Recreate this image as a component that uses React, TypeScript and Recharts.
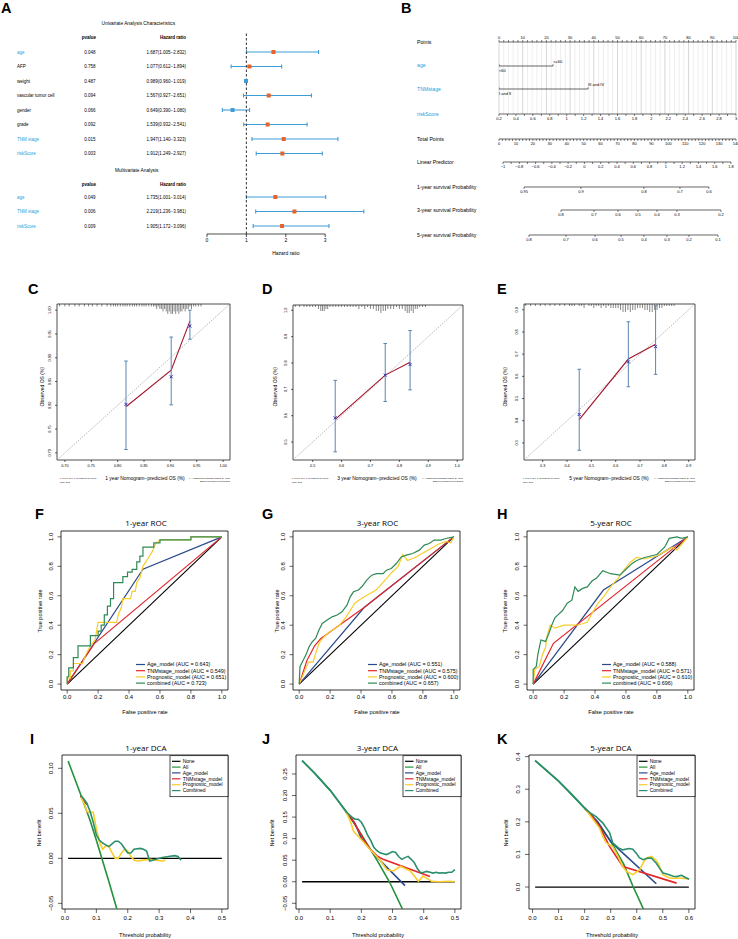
import React from 'react';
import { ComposedChart, Line, Scatter, ErrorBar, XAxis, YAxis, ReferenceLine, ReferenceArea } from 'recharts';

const FONT = "'Liberation Sans', Arial, Helvetica, sans-serif";
const TFONT = "'Open Sans', 'Noto Sans', 'Liberation Sans', sans-serif";
const TXT_BLUE = '#1CA2DE';
const C_AGE = '#2B4A8B';
const C_TNM = '#E3262B';
const C_PROG = '#F8CD2C';
const C_COMB = '#2F8A55';
const C_ALL = '#23923A';
const C_DCOMB = '#2B8F6B';

type Pt = [number, number];
const toXY = (a: Pt[]) => a.map(([x, y]) => ({ x, y }));
function seq(a: number, b: number, step: number) {
  const out: number[] = [];
  const n = Math.round((b - a) / step);
  for (let i = 0; i <= n; i++) out.push(+(a + i * step).toFixed(6));
  return out;
}

// ---------------- Panel A : forest plot ----------------
const uniVars = ['age', 'AFP', 'weight', 'vascular tumor cell', 'gender', 'grade', 'TNM stage', 'riskScore'];
const uniBlue = [true, false, false, false, false, false, true, true];
const uniP = ['0.048', '0.758', '0.487', '0.094', '0.066', '0.092', '0.015', '0.003'];
const uniHR = [1.687, 1.077, 0.989, 1.567, 0.649, 1.539, 1.947, 1.912];
const uniLo = [1.005, 0.612, 0.96, 0.927, 0.39, 0.932, 1.14, 1.249];
const uniHi = [2.832, 1.894, 1.019, 2.651, 1.08, 2.541, 3.323, 2.927];
const multiVars = ['age', 'TNM stage', 'riskScore'];
const multiP = ['0.049', '0.006', '0.009'];
const multiHR = [1.735, 2.219, 1.905];
const multiLo = [1.001, 1.236, 1.172];
const multiHi = [3.014, 3.981, 3.096];
const hrTicks = [0, 1, 2, 3];
const fmtHR = (h: number, l: number, u: number) => `${h.toFixed(3)}(${l.toFixed(3)}\u2212${u.toFixed(3)})`;

// ---------------- Panel B : nomogram ----------------
const nomoRows = ['Points', 'age', 'TNMstage', 'riskScore', 'Total Points', 'Linear Predictor', '1-year survival Probability', '3-year survival Probability', '5-year survival Probability'];
const nomoBlue = [false, true, true, true, false, false, false, false, false];
const agePts = [0, 22.8];
const ageLabels = ['<60', '>=60'];
const tnmPts = [0, 37.6];
const tnmLabels = ['I and II', 'III and IV'];
const surv1Labels = ['0.95', '0.9', '0.8', '0.7', '0.6'];
const surv1Pts = [14.8, 48.4, 85.6, 106.9, 124.0];
const surv3Labels = ['0.8', '0.7', '0.6', '0.5', '0.4', '0.3', '0.2'];
const surv3Pts = [36.6, 56.1, 70.3, 82.1, 93.3, 105.1, 131.1];
const surv5Labels = ['0.8', '0.7', '0.6', '0.5', '0.4', '0.3', '0.2', '0.1'];
const surv5Pts = [17.7, 39.6, 56.7, 72.1, 85.6, 99.2, 112.2, 129.4];

// ---------------- Panels C-E : calibration ----------------
const calC = {
  pts: [[0.8158, 0.802], [0.9015, 0.86], [0.937, 0.9665]] as Pt[],
  red: [[0.8158, 0.797], [0.9015, 0.874], [0.937, 0.977]] as Pt[],
  lo: [0.707, 0.801, 0.939], hi: [0.893, 0.9435, 1.0],
};
const calD = {
  pts: [[0.578, 0.592], [0.751, 0.754], [0.837, 0.794]] as Pt[],
  red: [[0.578, 0.586], [0.751, 0.754], [0.837, 0.803]] as Pt[],
  lo: [0.463, 0.654, 0.698], hi: [0.734, 0.874, 0.923],
};
const calE = {
  pts: [[0.45, 0.428], [0.652, 0.665], [0.764, 0.734]] as Pt[],
  red: [[0.45, 0.405], [0.652, 0.678], [0.764, 0.745]] as Pt[],
  lo: [0.267, 0.553, 0.609], hi: [0.632, 0.846, 0.918],
};
const rugCx = [0.69, 0.7, 0.708, 0.719, 0.727, 0.737, 0.745, 0.752, 0.761, 0.77, 0.78, 0.787, 0.792, 0.796, 0.8, 0.805, 0.81, 0.814, 0.818, 0.823, 0.828, 0.832, 0.836, 0.841, 0.846, 0.85, 0.854, 0.859, 0.864, 0.868, 0.871, 0.874, 0.877, 0.88, 0.883, 0.886, 0.889, 0.892, 0.895, 0.898, 0.901, 0.904, 0.907, 0.91, 0.913, 0.916, 0.919, 0.922, 0.925, 0.928, 0.931, 0.934, 0.937, 0.94, 0.944, 0.948, 0.953, 0.958];
const rugCh = [1, 1, 1, 1, 1, 1, 1, 1, 1, 1, 1, 1, 1, 1, 1, 1, 1, 1, 1, 1, 1, 1, 1, 1, 1, 1, 1, 1, 1, 1, 1, 2, 1, 2, 2, 3, 2, 3, 4, 3, 4, 4, 3, 4, 3, 4, 3, 3, 2, 3, 2, 2, 1, 2, 1, 1, 1, 1];
const rugDx = [0.44, 0.455, 0.47, 0.48, 0.49, 0.5, 0.51, 0.52, 0.528, 0.534, 0.54, 0.546, 0.552, 0.56, 0.57, 0.58, 0.59, 0.6, 0.61, 0.62, 0.63, 0.64, 0.65, 0.66, 0.67, 0.68, 0.69, 0.7, 0.71, 0.72, 0.728, 0.736, 0.744, 0.752, 0.76, 0.77, 0.78, 0.79, 0.8, 0.81, 0.82, 0.827, 0.834, 0.841, 0.848, 0.855, 0.862, 0.87, 0.88, 0.89];
const rugDh = [1, 1, 1, 1, 1, 1, 1, 2, 3, 3, 3, 2, 2, 1, 1, 1, 1, 1, 1, 1, 1, 1, 1, 2, 1, 2, 1, 2, 2, 3, 3, 4, 3, 3, 2, 2, 2, 1, 2, 2, 3, 4, 4, 3, 4, 2, 2, 1, 1, 1];
const rugEx = [0.23, 0.25, 0.27, 0.29, 0.31, 0.33, 0.35, 0.37, 0.39, 0.41, 0.42, 0.43, 0.45, 0.46, 0.47, 0.49, 0.5, 0.51, 0.52, 0.53, 0.54, 0.55, 0.56, 0.57, 0.58, 0.59, 0.6, 0.61, 0.62, 0.63, 0.64, 0.65, 0.66, 0.67, 0.68, 0.69, 0.7, 0.71, 0.72, 0.73, 0.74, 0.75, 0.76, 0.77, 0.78, 0.79, 0.8, 0.81, 0.82, 0.83, 0.84];
const rugEh = [1, 1, 1, 1, 1, 1, 1, 1, 1, 1, 1, 1, 1, 1, 2, 1, 1, 2, 1, 1, 2, 1, 2, 1, 2, 2, 2, 2, 3, 4, 4, 3, 4, 3, 3, 2, 2, 2, 3, 3, 4, 4, 3, 3, 2, 2, 1, 1, 1, 1, 1];

// ---------------- Panels F-H : ROC ----------------
const rocNames = ['Age_model', 'TNMstage_model', 'Prognostic_model', 'combined'];
const rocAucF = ['0.643', '0.549', '0.651', '0.723'];
const rocAucG = ['0.551', '0.575', '0.600', '0.657'];
const rocAucH = ['0.588', '0.571', '0.610', '0.696'];
const diagROC: Pt[] = [[0, 0], [1, 1]];
const fAge: Pt[] = [[0, 0], [0.49, 0.78], [1, 1]];
const fTnm: Pt[] = [[0, 0], [0.175, 0.275], [1, 1]];
const fProg: Pt[] = [[0, 0], [0, 0.04], [0.02, 0.04], [0.02, 0.09], [0.04, 0.09], [0.04, 0.14], [0.1, 0.14], [0.12, 0.2], [0.15, 0.26], [0.18, 0.3], [0.19, 0.36], [0.2, 0.42], [0.32, 0.42], [0.33, 0.47], [0.35, 0.52], [0.36, 0.58], [0.41, 0.58], [0.42, 0.63], [0.44, 0.63], [0.45, 0.69], [0.47, 0.72], [0.49, 0.8], [0.52, 0.85], [0.55, 0.9], [0.57, 0.95], [0.6, 0.98], [0.8, 0.98], [0.8, 1], [1, 1]];
const fComb: Pt[] = [[0, 0], [0, 0.05], [0.01, 0.05], [0.01, 0.11], [0.04, 0.11], [0.04, 0.18], [0.07, 0.18], [0.07, 0.26], [0.15, 0.26], [0.15, 0.33], [0.2, 0.33], [0.2, 0.36], [0.22, 0.36], [0.22, 0.4], [0.24, 0.4], [0.24, 0.47], [0.26, 0.47], [0.26, 0.53], [0.28, 0.53], [0.28, 0.58], [0.3, 0.58], [0.3, 0.69], [0.36, 0.69], [0.36, 0.73], [0.39, 0.73], [0.39, 0.76], [0.42, 0.76], [0.42, 0.78], [0.45, 0.78], [0.45, 0.83], [0.47, 0.83], [0.47, 0.87], [0.49, 0.87], [0.49, 0.93], [0.56, 0.93], [0.56, 0.96], [0.6, 0.96], [0.6, 0.98], [0.8, 0.98], [0.8, 1], [1, 1]];
const gAge: Pt[] = [[0, 0], [0.42, 0.52], [1, 1]];
const gTnm: Pt[] = [[0, 0], [0.05, 0.16], [0.1, 0.26], [0.14, 0.31], [0.42, 0.52], [1, 1]];
const gProg: Pt[] = [[0, 0], [0.02, 0.05], [0.04, 0.1], [0.06, 0.15], [0.09, 0.15], [0.11, 0.22], [0.13, 0.28], [0.16, 0.32], [0.19, 0.35], [0.22, 0.37], [0.26, 0.4], [0.3, 0.45], [0.33, 0.5], [0.36, 0.55], [0.4, 0.58], [0.45, 0.61], [0.5, 0.64], [0.55, 0.7], [0.6, 0.76], [0.64, 0.8], [0.67, 0.88], [0.7, 0.84], [0.75, 0.86], [0.8, 0.89], [0.85, 0.92], [0.9, 0.95], [0.95, 0.97], [0.98, 0.96], [1, 1]];
const gComb: Pt[] = [[0, 0], [0.005, 0.118], [0.021, 0.152], [0.043, 0.197], [0.064, 0.254], [0.085, 0.288], [0.106, 0.31], [0.128, 0.367], [0.149, 0.412], [0.181, 0.435], [0.213, 0.457], [0.245, 0.469], [0.277, 0.491], [0.309, 0.536], [0.33, 0.593], [0.351, 0.627], [0.383, 0.639], [0.405, 0.661], [0.437, 0.706], [0.469, 0.74], [0.5, 0.75], [0.543, 0.75], [0.564, 0.774], [0.596, 0.785], [0.628, 0.819], [0.66, 0.864], [0.692, 0.876], [0.734, 0.887], [0.777, 0.91], [0.809, 0.944], [0.841, 0.955], [0.873, 0.978], [0.916, 0.978], [0.948, 0.989], [1, 1]];
const hAge: Pt[] = [[0, 0], [0.454, 0.639], [1, 1]];
const hTnm: Pt[] = [[0, 0], [0.131, 0.277], [1, 1]];
const hProg: Pt[] = [[0, 0], [0.01, 0.1], [0.04, 0.12], [0.06, 0.2], [0.08, 0.25], [0.09, 0.33], [0.11, 0.4], [0.14, 0.38], [0.17, 0.39], [0.2, 0.4], [0.24, 0.4], [0.28, 0.4], [0.32, 0.41], [0.35, 0.42], [0.38, 0.48], [0.42, 0.55], [0.46, 0.6], [0.5, 0.66], [0.55, 0.72], [0.59, 0.78], [0.63, 0.83], [0.67, 0.86], [0.72, 0.85], [0.8, 0.87], [0.85, 0.9], [0.9, 0.93], [0.93, 0.91], [0.96, 0.95], [1, 1]];
const hComb: Pt[] = [[0, 0], [0, 0.1], [0.02, 0.12], [0.03, 0.2], [0.05, 0.3], [0.08, 0.29], [0.1, 0.34], [0.12, 0.4], [0.14, 0.45], [0.16, 0.47], [0.19, 0.5], [0.22, 0.55], [0.25, 0.57], [0.27, 0.66], [0.29, 0.63], [0.32, 0.65], [0.35, 0.66], [0.38, 0.7], [0.41, 0.72], [0.45, 0.77], [0.5, 0.75], [0.56, 0.74], [0.6, 0.78], [0.64, 0.82], [0.67, 0.84], [0.72, 0.86], [0.8, 0.88], [0.85, 0.93], [0.88, 0.99], [0.93, 1.0], [0.96, 0.99], [1, 1]];

// ---------------- Panels I-K : DCA ----------------
const dcaNames = ['None', 'All', 'Age_model', 'TNMstage_model', 'Prognostic_model', 'Combined'];
const dcaColors = ['#000000', C_ALL, C_AGE, C_TNM, C_PROG, C_DCOMB];
const iNone: Pt[] = [[0.01, 0], [0.5, 0]];
const iAll: Pt[] = [[0.01, 0.108], [0.05, 0.071], [0.08, 0.042], [0.1, 0.02], [0.12, -0.003], [0.14, -0.026], [0.17, -0.062]];
const iAge: Pt[] = [[0.05, 0.069], [0.06, 0.064], [0.07, 0.06]];
const iTnm: Pt[] = [[0.05, 0.069], [0.06, 0.064], [0.07, 0.06]];
const iProg: Pt[] = [[0.05, 0.068], [0.06, 0.062], [0.07, 0.052], [0.08, 0.051], [0.09, 0.051], [0.1, 0.033], [0.11, 0.018], [0.12, 0.01], [0.13, 0.014], [0.14, 0.013], [0.15, 0.006], [0.16, 0.0], [0.17, 0.0], [0.18, 0.006], [0.19, 0.01], [0.2, 0.008], [0.21, 0.002], [0.22, -0.002], [0.23, -0.003], [0.25, -0.002], [0.27, -0.001], [0.29, -0.002], [0.31, -0.003], [0.32, -0.002]];
const iComb: Pt[] = [[0.05, 0.07], [0.06, 0.066], [0.07, 0.061], [0.08, 0.052], [0.09, 0.04], [0.1, 0.026], [0.11, 0.02], [0.12, 0.017], [0.13, 0.015], [0.14, 0.013], [0.15, 0.016], [0.16, 0.019], [0.17, 0.019], [0.18, 0.016], [0.19, 0.011], [0.2, 0.006], [0.21, 0.006], [0.22, 0.01], [0.24, 0.011], [0.25, 0.01], [0.26, 0.008], [0.27, -0.003], [0.29, -0.001], [0.31, 0.001], [0.33, 0.002], [0.35, 0.003], [0.36, 0.002], [0.37, -0.002]];
const jNone: Pt[] = [[0.01, 0], [0.5, 0]];
const jAll: Pt[] = [[0.01, 0.281], [0.05, 0.252], [0.1, 0.212], [0.15, 0.165], [0.2, 0.11], [0.25, 0.05], [0.29, 0.0], [0.335, -0.068]];
const jAge: Pt[] = [[0.15, 0.163], [0.18, 0.135], [0.2, 0.1], [0.247, 0.059], [0.34, -0.009]];
const jTnm: Pt[] = [[0.15, 0.163], [0.17, 0.146], [0.19, 0.12], [0.21, 0.095], [0.23, 0.074], [0.25, 0.06], [0.27, 0.052], [0.42, 0.012]];
const jProg: Pt[] = [[0.15, 0.163], [0.165, 0.14], [0.175, 0.117], [0.2, 0.098], [0.228, 0.075], [0.26, 0.05], [0.282, 0.028], [0.303, 0.025], [0.325, 0.036], [0.357, 0.025], [0.383, 0.001], [0.398, 0.013], [0.425, 0.001], [0.452, 0.0], [0.479, 0.001], [0.5, 0.0]];
const jComb: Pt[] = [[0.01, 0.281], [0.05, 0.252], [0.1, 0.212], [0.15, 0.163], [0.17, 0.15], [0.18, 0.145], [0.19, 0.145], [0.2, 0.138], [0.21, 0.125], [0.22, 0.108], [0.23, 0.096], [0.24, 0.08], [0.25, 0.072], [0.26, 0.067], [0.27, 0.065], [0.28, 0.063], [0.29, 0.066], [0.3, 0.07], [0.31, 0.068], [0.32, 0.058], [0.33, 0.052], [0.34, 0.056], [0.35, 0.059], [0.36, 0.052], [0.37, 0.044], [0.38, 0.03], [0.39, 0.021], [0.4, 0.022], [0.41, 0.024], [0.42, 0.022], [0.43, 0.02], [0.44, 0.022], [0.45, 0.02], [0.46, 0.021], [0.47, 0.02], [0.48, 0.022], [0.49, 0.022], [0.5, 0.028]];
const kNone: Pt[] = [[0.01, 0], [0.6, 0]];
const kAll: Pt[] = [[0.01, 0.388], [0.05, 0.36], [0.1, 0.325], [0.15, 0.285], [0.2, 0.242], [0.25, 0.195], [0.3, 0.14], [0.35, 0.07], [0.385, 0.003], [0.43, -0.075]];
const kAge: Pt[] = [[0.2, 0.242], [0.25, 0.2], [0.3, 0.14], [0.32, 0.124], [0.475, 0.01]];
const kTnm: Pt[] = [[0.2, 0.242], [0.23, 0.215], [0.257, 0.186], [0.296, 0.124], [0.347, 0.063], [0.553, 0.012]];
const kProg: Pt[] = [[0.2, 0.242], [0.23, 0.21], [0.257, 0.181], [0.27, 0.155], [0.283, 0.135], [0.308, 0.124], [0.328, 0.094], [0.345, 0.065], [0.36, 0.048], [0.385, 0.038], [0.411, 0.053], [0.425, 0.075], [0.437, 0.089], [0.456, 0.094], [0.47, 0.085], [0.482, 0.073], [0.501, 0.037], [0.52, 0.03], [0.533, 0.027], [0.572, 0.027], [0.601, 0.025]];
const kComb: Pt[] = [[0.01, 0.388], [0.1, 0.325], [0.2, 0.242], [0.22, 0.228], [0.244, 0.216], [0.27, 0.196], [0.296, 0.166], [0.308, 0.135], [0.33, 0.12], [0.347, 0.114], [0.37, 0.118], [0.385, 0.116], [0.398, 0.104], [0.41, 0.09], [0.424, 0.084], [0.44, 0.088], [0.456, 0.089], [0.475, 0.073], [0.49, 0.055], [0.501, 0.043], [0.515, 0.04], [0.527, 0.037], [0.54, 0.033], [0.553, 0.032], [0.572, 0.036], [0.585, 0.03], [0.601, 0.024]];

// ================= components =================
function RotTick(props: any) {
  const { x, y, payload, fmt, fs } = props;
  return (
    <text x={x} y={y} transform={`rotate(-90 ${x} ${y})`} textAnchor="middle" fontSize={fs} fontFamily={FONT} fill="#000">
      {fmt(payload.value)}
    </text>
  );
}

function Frame(props: any) {
  const { box, xDomain, yDomain, xTicks, yTicks, xFmt, yFmt, fs, tickLen, xGap, yGap, frameW = 0.8, children } = props;
  const yw = 24, xh = 22, mt = 8, mr = 8;
  return (
    <div style={{ position: 'absolute', left: box.x - yw, top: box.y - mt }}>
      <ComposedChart width={box.w + yw + mr} height={box.h + mt + xh} margin={{ top: mt, right: mr, bottom: 0, left: 0 }}>
        <XAxis type="number" dataKey="x" domain={xDomain} ticks={xTicks} interval={0} allowDataOverflow height={xh}
          axisLine={false} tickLine={{ stroke: '#000', strokeWidth: 0.6 }} tickSize={tickLen} tickMargin={xGap}
          tick={{ fontSize: fs, fill: '#000', fontFamily: FONT }} tickFormatter={xFmt} />
        <YAxis type="number" dataKey="y" domain={yDomain} ticks={yTicks} interval={0} allowDataOverflow width={yw}
          axisLine={false} tickLine={{ stroke: '#000', strokeWidth: 0.6 }} tickSize={tickLen} tickMargin={yGap}
          tick={<RotTick fmt={yFmt} fs={fs} />} />
        <ReferenceArea x1={xDomain[0]} x2={xDomain[1]} y1={yDomain[0]} y2={yDomain[1]} fill="none" stroke="#000" strokeWidth={frameW} ifOverflow="visible" />
        {children}
      </ComposedChart>
    </div>
  );
}

const XMark = (p: any) => {
  const { cx, cy } = p;
  const s = 1.5;
  return <path d={`M${cx - s},${cy - s}L${cx + s},${cy + s}M${cx - s},${cy + s}L${cx + s},${cy - s}`} stroke="#3535B5" strokeWidth={1} fill="none" />;
};
const NoShape = () => <g />;

function CalPanel(props: any) {
  const { box, dom, ticks, fmt, cal, rugX, rugH, rugUnit } = props;
  const scat = cal.pts.map(([x, y]: Pt, i: number) => ({ x, y, err: [y - cal.lo[i], cal.hi[i] - y] }));
  const rug = rugX.map((x: number, i: number) => ({ x, y: dom[1], err: [rugH[i] * rugUnit, 0] }));
  return (
    <Frame box={box} xDomain={dom} yDomain={dom} xTicks={ticks} yTicks={ticks} xFmt={fmt} yFmt={fmt} fs={3.8} tickLen={2} xGap={2} yGap={3.5} frameW={0.7}>
      <Line data={toXY([[dom[0], dom[0]], [dom[1], dom[1]]])} dataKey="y" stroke="#8a8a8a" strokeWidth={0.6} strokeDasharray="1.6 1.2" dot={false} isAnimationActive={false} />
      <Scatter data={rug} shape={NoShape} isAnimationActive={false}>
        <ErrorBar dataKey="err" direction="y" width={0} stroke="#111" strokeWidth={0.5} />
      </Scatter>
      <Line data={toXY(cal.red)} dataKey="y" stroke="#A3152E" strokeWidth={1.1} dot={false} isAnimationActive={false} />
      <Scatter data={scat} shape={XMark} isAnimationActive={false}>
        <ErrorBar dataKey="err" direction="y" width={1.8} stroke="#5B86B0" strokeWidth={1} />
      </Scatter>
    </Frame>
  );
}

const rocTicks = [0, 0.2, 0.4, 0.6, 0.8, 1];
const f1 = (v: number) => v.toFixed(1);
function RocPanel(props: any) {
  const { box, age, tnm, prog, comb } = props;
  const dom = [-0.04, 1.04];
  const series = [
    { d: age, c: C_AGE }, { d: tnm, c: C_TNM }, { d: prog, c: C_PROG }, { d: comb, c: C_COMB },
  ];
  return (
    <Frame box={box} xDomain={dom} yDomain={dom} xTicks={rocTicks} yTicks={rocTicks} xFmt={f1} yFmt={f1} fs={6} tickLen={3.5} xGap={1.5} yGap={4}>
      <Line data={toXY(diagROC)} dataKey="y" stroke="#000" strokeWidth={1.1} dot={false} isAnimationActive={false} />
      {series.map((s, i) => (
        <Line key={i} data={toXY(s.d)} dataKey="y" stroke={s.c} strokeWidth={1.2} dot={false} isAnimationActive={false} />
      ))}
    </Frame>
  );
}

function DcaPanel(props: any) {
  const { box, xDom, yDom, xTicks, yTicks, yFmt, lines } = props;
  return (
    <Frame box={box} xDomain={xDom} yDomain={yDom} xTicks={xTicks} yTicks={yTicks} xFmt={f1} yFmt={yFmt} fs={6} tickLen={4} xGap={2.5} yGap={4.5}>
      {lines.map((d: Pt[], i: number) => (
        <Line key={i} data={toXY(d)} dataKey="y" stroke={dcaColors[i]} strokeWidth={i === 0 ? 1.3 : 1.6} dot={false} isAnimationActive={false} />
      ))}
    </Frame>
  );
}

function Forest() {
  const KTOP = -1.38, KBOT = 12.55;
  const rows = [
    ...uniHR.map((h, i) => ({ x: h, y: i, err: [h - uniLo[i], uniHi[i] - h] })),
    ...multiHR.map((h, i) => ({ x: h, y: 10 + i, err: [h - multiLo[i], multiHi[i] - h] })),
  ];
  const ml = 8, mr = 8, pw = 157.6, ph = 202;
  return (
    <div style={{ position: 'absolute', left: 207 - ml, top: 32 }}>
      <ComposedChart width={pw + ml + mr} height={ph + 24} margin={{ top: 0, right: mr, bottom: 0, left: ml }}>
        <XAxis type="number" dataKey="x" domain={[0, 4]} ticks={hrTicks} interval={0} height={24} axisLine={false}
          tickLine={{ stroke: '#000', strokeWidth: 0.7 }} tickSize={3} tickMargin={1}
          tick={{ fontSize: 5, fill: '#000', fontFamily: FONT }} allowDataOverflow />
        <YAxis hide type="number" dataKey="y" domain={[KTOP, KBOT]} reversed allowDataOverflow />
        <ReferenceLine segment={[{ x: 0, y: KBOT }, { x: 3, y: KBOT }]} stroke="#000" strokeWidth={0.7} ifOverflow="visible" />
        <Scatter data={rows} isAnimationActive={false}
          shape={(p: any) => <rect x={p.cx - 2} y={p.cy - 2} width={4} height={4} fill={p.payload.x < 1 ? '#3E9DD6' : '#E8622C'} />}>
          <ErrorBar dataKey="err" direction="x" width={2} stroke="#3E9DD6" strokeWidth={1.1} />
        </Scatter>
        <ReferenceLine x={1} stroke="#444" strokeWidth={1.1} strokeDasharray="2.5 2" ifOverflow="visible" />
      </ComposedChart>
    </div>
  );
}

function NomoAxis(props: any) {
  const { x0, x1, y, domain, ticks, fmt, top = false, lineFrom, lineTo, fs = 4 } = props;
  const pad = 14, axH = 10, plotH = 4, mt = 2;
  const W = x1 - x0 + 2 * pad;
  const H = mt + axH + plotH;
  const off = top ? mt + axH : mt + plotH;
  const yl = top ? 1 : 0;
  return (
    <div style={{ position: 'absolute', left: x0 - pad, top: y - off }}>
      <ComposedChart width={W} height={H} data={[{ x: domain[0], y: 0 }, { x: domain[1], y: 1 }]} margin={{ top: mt, right: pad, bottom: 0, left: pad }}>
        <XAxis type="number" dataKey="x" domain={domain} ticks={ticks} interval={0} orientation={top ? 'top' : 'bottom'} height={axH}
          axisLine={false} tickLine={{ stroke: '#000', strokeWidth: 0.5 }} tickSize={2} tickMargin={1}
          tick={{ fontSize: fs, fill: '#000', fontFamily: FONT }} tickFormatter={fmt} allowDataOverflow />
        <YAxis hide type="number" dataKey="y" domain={[0, 1]} />
        <Line dataKey="y" stroke="none" dot={false} isAnimationActive={false} />
        <ReferenceLine segment={[{ x: lineFrom ?? domain[0], y: yl }, { x: lineTo ?? domain[1], y: yl }]} stroke="#000" strokeWidth={0.6} ifOverflow="visible" />
      </ComposedChart>
    </div>
  );
}

function NomoGrid() {
  const pad = 2;
  const vals = seq(0, 100, 2);
  return (
    <div style={{ position: 'absolute', left: 499 - pad, top: 42 }}>
      <ComposedChart width={237 + 2 * pad} height={72} data={[{ x: 0, y: 0 }, { x: 100, y: 1 }]} margin={{ top: 0, right: pad, bottom: 0, left: pad }}>
        <XAxis hide type="number" dataKey="x" domain={[0, 100]} allowDataOverflow />
        <YAxis hide type="number" dataKey="y" domain={[0, 1]} />
        <Line dataKey="y" stroke="none" dot={false} isAnimationActive={false} />
        {vals.map((v) => (
          <ReferenceLine key={v} x={v} stroke={v % 10 === 0 ? '#b8b8b8' : '#e2e2e2'} strokeWidth={0.6} />
        ))}
      </ComposedChart>
    </div>
  );
}

function CatRow(props: any) {
  const { y, pts, labels } = props;
  const x0 = 499, x1 = 736, pad = 14, H = 20;
  const data = pts.map((p: number, i: number) => ({ x: p, y: 0.5, lab: labels[i] }));
  const dot = (p: any) => {
    const { cx, cy, index, payload } = p;
    const below = index % 2 === 0;
    return (
      <g key={`d${index}`}>
        <line x1={cx} x2={cx} y1={cy} y2={cy - 1.8} stroke="#000" strokeWidth={0.5} />
        <text x={cx} y={below ? cy + 5.5 : cy - 2.6} fontSize={4} fontFamily={FONT} fill="#000">{payload.lab}</text>
      </g>
    );
  };
  return (
    <div style={{ position: 'absolute', left: x0 - pad, top: y - H / 2 }}>
      <ComposedChart width={x1 - x0 + 2 * pad} height={H} margin={{ top: 0, right: pad, bottom: 0, left: pad }}>
        <XAxis hide type="number" dataKey="x" domain={[0, 100]} allowDataOverflow />
        <YAxis hide type="number" dataKey="y" domain={[0, 1]} />
        <Line data={data} dataKey="y" stroke="#000" strokeWidth={0.6} dot={dot} isAnimationActive={false} />
      </ComposedChart>
    </div>
  );
}

const T = (p: any) => {
  const { x, y, s, fs, anchor = 'start', w, fill = '#000', font = FONT, rot } = p;
  return (
    <text x={x} y={y} fontSize={fs} textAnchor={anchor} fontWeight={w} fill={fill} fontFamily={font}
      transform={rot ? `rotate(-90 ${x} ${y})` : undefined}>{s}</text>
  );
};

function Overlay() {
  const letters: [string, number, number][] = [
    ['A', 1, 12.5], ['B', 401, 13.3], ['C', 28, 294], ['D', 262, 294], ['E', 497, 294],
    ['F', 35, 518.5], ['G', 262, 518.5], ['H', 497, 518.5], ['I', 30, 744], ['J', 262, 744], ['K', 497, 744],
  ];
  const rowY = (k: number) => 52 + 14.5 * k;
  const nomoY = [42, 65.5, 89.3, 114, 139, 162, 187, 210, 235];
  const rocBoxes = [{ r: 228, aucs: rocAucF }, { r: 460, aucs: rocAucG }, { r: 694, aucs: rocAucH }];
  const rocColors = [C_AGE, C_TNM, C_PROG, C_COMB];
  const rocLegY = [664.5, 670.7, 676.9, 683.1];
  const dcaR = [228, 461, 695];
  const dcaLegY = [761.3, 767.1, 772.9, 778.8, 784.7, 790.6];
  const calSub = [
    { l: 60, r: 230 },
    { l: 292, r: 463 },
    { l: 523, r: 695 },
  ];
  return (
    <svg width={738} height={939} style={{ position: 'absolute', left: 0, top: 0, pointerEvents: 'none' }}>
      {letters.map(([s, x, y]) => <T key={s} x={x} y={y} s={s} fs={14.5} w={700} />)}

      {/* Panel A text */}
      <T x={138.3} y={24.5} s="Univariate Analysis Characteristics" fs={4.8} anchor="middle" />
      <T x={89} y={39.3} s="pvalue" fs={4.5} anchor="middle" w={700} />
      <T x={186} y={39.3} s="Hazard ratio" fs={4.5} anchor="end" w={700} />
      {uniVars.map((v, i) => (
        <g key={'u' + i}>
          <T x={17} y={rowY(i) + 1.6} s={v} fs={4.5} fill={uniBlue[i] ? TXT_BLUE : '#000'} />
          <T x={90} y={rowY(i) + 1.6} s={uniP[i]} fs={4.5} anchor="middle" />
          <T x={186} y={rowY(i) + 1.6} s={fmtHR(uniHR[i], uniLo[i], uniHi[i])} fs={4.5} anchor="end" />
        </g>
      ))}
      <T x={136.7} y={171.7} s="Multivariate Analysis" fs={4.8} anchor="middle" />
      <T x={89} y={185.6} s="pvalue" fs={4.5} anchor="middle" w={700} />
      <T x={186} y={185.6} s="Hazard ratio" fs={4.5} anchor="end" w={700} />
      {multiVars.map((v, i) => (
        <g key={'m' + i}>
          <T x={17} y={rowY(10 + i) + 1.6} s={v} fs={4.5} fill={TXT_BLUE} />
          <T x={90} y={rowY(10 + i) + 1.6} s={multiP[i]} fs={4.5} anchor="middle" />
          <T x={186} y={rowY(10 + i) + 1.6} s={fmtHR(multiHR[i], multiLo[i], multiHi[i])} fs={4.5} anchor="end" />
        </g>
      ))}
      <T x={285.8} y={255} s="Hazard ratio" fs={5} anchor="middle" />

      {/* Panel B labels */}
      {nomoRows.map((s, i) => (
        <T key={'n' + i} x={417} y={nomoY[i] + 1.8} s={s} fs={5.2} fill={nomoBlue[i] ? TXT_BLUE : '#000'} />
      ))}

      {/* Calibration texts */}
      {[{ cx: 42, bx: 145, s: '1 year' }, { cx: 275.7, bx: 377, s: '3 year' }, { cx: 505, bx: 609, s: '5 year' }].map((c, i) => (
        <g key={'c' + i}>
          <T x={c.cx + 1.8} y={386.7} s="Observed OS (%)" fs={5} anchor="middle" rot />
          <T x={c.bx} y={479.5} s={`${c.s} Nomogram\u2212predicted OS (%)`} fs={4.9} anchor="middle" />
          <T x={calSub[i].l} y={479.3} s="n=243 d=62 p=1, 80 subjects per group" fs={2.1} />
          <T x={calSub[i].l} y={482.5} s="Gray: ideal" fs={2.1} />
          <T x={calSub[i].r} y={479} s="X - resampling optimism added, B=1000" fs={2.3} anchor="end" />
          <T x={calSub[i].r} y={482.3} s="Based on observed-predicted" fs={2.3} anchor="end" />
        </g>
      ))}

      {/* ROC texts */}
      {[{ t: '1-year ROC', cx: 146, yx: 40, bx: 145 }, { t: '3-year ROC', cx: 377.5, yx: 276.7, bx: 377 }, { t: '5-year ROC', cx: 611, yx: 505, bx: 611 }].map((c, i) => (
        <g key={'r' + i}>
          <T x={c.cx} y={526} s={c.t} fs={8} anchor="middle" font={TFONT} />
          <T x={c.yx + 2} y={611} s="True positive rate" fs={5.6} anchor="middle" rot />
          <T x={c.bx} y={713.5} s="False positive rate" fs={5.6} anchor="middle" />
          {rocNames.map((n, k) => (
            <g key={k}>
              <line x1={rocBoxes[i].r - 92} x2={rocBoxes[i].r - 83} y1={rocLegY[k]} y2={rocLegY[k]} stroke={rocColors[k]} strokeWidth={1.2} />
              <T x={rocBoxes[i].r - 81} y={rocLegY[k] + 1.9} s={`${n} (AUC = ${rocBoxes[i].aucs[k]})`} fs={5.4} />
            </g>
          ))}
        </g>
      ))}

      {/* DCA texts */}
      {[{ t: '1-year DCA', cx: 146, yx: 39, bx: 145 }, { t: '3-year DCA', cx: 377.5, yx: 271.7, bx: 378 }, { t: '5-year DCA', cx: 611, yx: 506, bx: 612 }].map((c, i) => (
        <g key={'k' + i}>
          <T x={c.cx} y={751} s={c.t} fs={8} anchor="middle" font={TFONT} />
          <T x={c.yx + 2} y={833} s="Net benefit" fs={5.6} anchor="middle" rot />
          <T x={c.bx} y={937} s="Threshold probability" fs={5.6} anchor="middle" />
          <rect x={dcaR[i] - 58} y={755.7} width={58} height={41} fill="#fff" stroke="#000" strokeWidth={0.7} />
          {dcaNames.map((n, k) => (
            <g key={k}>
              <line x1={dcaR[i] - 56} x2={dcaR[i] - 47.5} y1={dcaLegY[k]} y2={dcaLegY[k]} stroke={dcaColors[k]} strokeWidth={1.2} />
              <T x={dcaR[i] - 45.3} y={dcaLegY[k] + 1.7} s={n} fs={5} />
            </g>
          ))}
        </g>
      ))}
    </svg>
  );
}

export default function App() {
  const ptsTicks = seq(0, 100, 2);
  const totTicks = seq(0, 140, 2);
  const riskTicks = seq(0.2, 3, 0.1);
  const lpTicks = seq(-1, 1.8, 0.1);
  const tenFmt = (v: number) => (Math.round(v) % 10 === 0 ? String(Math.round(v)) : '');
  const evenTenth = (v: number) => Math.round(v * 10) % 2 === 0;
  const riskFmt = (v: number) => (evenTenth(v) ? String(+v.toFixed(1)) : '');
  const lpFmt = (v: number) => (evenTenth(v) ? String(+v.toFixed(1)).replace('-', '\u2212') : '');
  const lookup = (pts: number[], labs: string[]) => (v: number) => {
    const i = pts.findIndex((p) => Math.abs(p - v) < 1e-6);
    return i >= 0 ? labs[i] : '';
  };
  const f2 = (v: number) => v.toFixed(2);
  const dcaY2 = (v: number) => v.toFixed(2).replace('-', '\u2212');

  return (
    <div style={{ position: 'absolute', left: 0, top: 0, width: 738, height: 939, background: '#fff', overflow: 'hidden', fontFamily: FONT }}>
      <Forest />

      <NomoGrid />
      <NomoAxis x0={499} x1={736} y={42} domain={[0, 100]} ticks={ptsTicks} fmt={tenFmt} top />
      <CatRow y={65.5} pts={agePts} labels={ageLabels} />
      <CatRow y={89.3} pts={tnmPts} labels={tnmLabels} />
      <NomoAxis x0={499} x1={736} y={114} domain={[0.2, 3]} ticks={riskTicks} fmt={riskFmt} />
      <NomoAxis x0={499} x1={736} y={139} domain={[0, 140]} ticks={totTicks} fmt={tenFmt} />
      <NomoAxis x0={503} x1={731} y={162} domain={[-1, 1.8]} ticks={lpTicks} fmt={lpFmt} />
      <NomoAxis x0={499} x1={736} y={187} domain={[0, 140]} ticks={surv1Pts} fmt={lookup(surv1Pts, surv1Labels)} lineFrom={surv1Pts[0]} lineTo={surv1Pts[surv1Pts.length - 1]} />
      <NomoAxis x0={499} x1={736} y={210} domain={[0, 140]} ticks={surv3Pts} fmt={lookup(surv3Pts, surv3Labels)} lineFrom={surv3Pts[0]} lineTo={surv3Pts[surv3Pts.length - 1]} />
      <NomoAxis x0={499} x1={736} y={235} domain={[0, 140]} ticks={surv5Pts} fmt={lookup(surv5Pts, surv5Labels)} lineFrom={surv5Pts[0]} lineTo={surv5Pts[surv5Pts.length - 1]} />

      <CalPanel box={{ x: 57, y: 304, w: 173, h: 156 }} dom={[0.685, 1.013]} ticks={[0.7, 0.75, 0.8, 0.85, 0.9, 0.95, 1.0]} fmt={f2} cal={calC} rugX={rugCx} rugH={rugCh} rugUnit={0.0052} />
      <CalPanel box={{ x: 293, y: 305, w: 170, h: 155 }} dom={[0.432, 1.02]} ticks={[0.5, 0.6, 0.7, 0.8, 0.9, 1.0]} fmt={f1} cal={calD} rugX={rugDx} rugH={rugDh} rugUnit={0.0076} />
      <CalPanel box={{ x: 524, y: 304, w: 171, h: 156 }} dom={[0.223, 0.926]} ticks={[0.3, 0.4, 0.5, 0.6, 0.7, 0.8, 0.9]} fmt={f1} cal={calE} rugX={rugEx} rugH={rugEh} rugUnit={0.009} />

      <RocPanel box={{ x: 61, y: 531, w: 167, h: 159 }} age={fAge} tnm={fTnm} prog={fProg} comb={fComb} />
      <RocPanel box={{ x: 293, y: 531, w: 167, h: 159 }} age={gAge} tnm={gTnm} prog={gProg} comb={gComb} />
      <RocPanel box={{ x: 527, y: 531, w: 167, h: 159 }} age={hAge} tnm={hTnm} prog={hProg} comb={hComb} />

      <DcaPanel box={{ x: 62, y: 755, w: 166, h: 154 }} xDom={[-0.0096, 0.5196]} yDom={[-0.0563, 0.1148]} xTicks={[0, 0.1, 0.2, 0.3, 0.4, 0.5]} yTicks={[-0.05, 0, 0.05, 0.1]} yFmt={dcaY2}
        lines={[iNone, iAll, iAge, iTnm, iProg, iComb]} />
      <DcaPanel box={{ x: 296, y: 755, w: 165, h: 154 }} xDom={[-0.0096, 0.5196]} yDom={[-0.0632, 0.294]} xTicks={[0, 0.1, 0.2, 0.3, 0.4, 0.5]} yTicks={[-0.05, 0, 0.05, 0.1, 0.15, 0.2, 0.25]} yFmt={dcaY2}
        lines={[jNone, jAll, jAge, jTnm, jProg, jComb]} />
      <DcaPanel box={{ x: 529, y: 755, w: 166, h: 154 }} xDom={[-0.0136, 0.6236]} yDom={[-0.0674, 0.405]} xTicks={[0, 0.1, 0.2, 0.3, 0.4, 0.5, 0.6]} yTicks={[0, 0.1, 0.2, 0.3, 0.4]} yFmt={f1}
        lines={[kNone, kAll, kAge, kTnm, kProg, kComb]} />

      <Overlay />
    </div>
  );
}
